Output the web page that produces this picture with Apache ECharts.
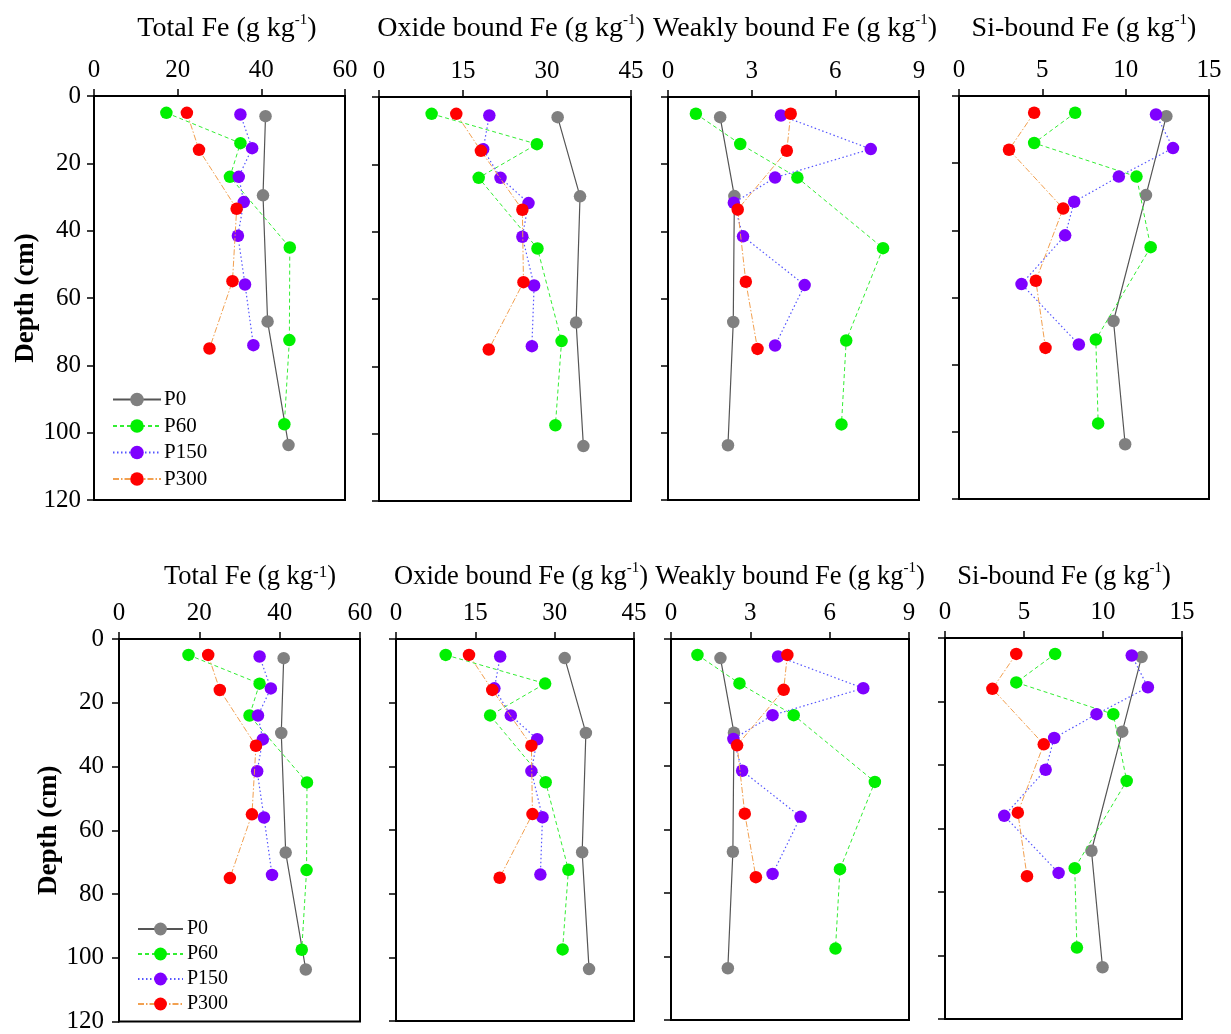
<!DOCTYPE html>
<html>
<head>
<meta charset="utf-8">
<script src="https://cdn.jsdelivr.net/npm/echarts@6/dist/echarts.min.js"></script>
<style>
html,body{margin:0;padding:0;background:#fff;}
#chart{width:1231px;height:1034px;}
</style>
</head>
<body>
<div id="chart"></div>
<script>
// ---- Data ----
var seriesNames = ['P0', 'P60', 'P150', 'P300'];
var depthP0 = [6, 29.5, 67, 103.7];
var depthP60 = [5, 14, 24, 45, 72.5, 97.5];
var depthP150 = [5.5, 15.5, 24, 31.5, 41.5, 56, 74];
var depthP300 = [5, 16, 33.5, 55, 75];

var totalFeP0 = [41.0, 40.4, 41.5, 46.5];
var totalFeP60 = [17.3, 35.0, 32.5, 46.8, 46.7, 45.5];
var totalFeP150 = [35.0, 37.8, 34.6, 35.8, 34.4, 36.1, 38.1];
var totalFeP300 = [22.2, 25.1, 34.1, 33.1, 27.6];

var oxideFeP0 = [31.9, 35.9, 35.2, 36.5];
var oxideFeP60 = [9.4, 28.2, 17.8, 28.3, 32.6, 31.5];
var oxideFeP150 = [19.7, 18.6, 21.7, 26.7, 25.6, 27.7, 27.3];
var oxideFeP300 = [13.8, 18.2, 25.6, 25.8, 19.6];

var weakFeP0 = [1.87, 2.38, 2.34, 2.15];
var weakFeP60 = [1.00, 2.59, 4.64, 7.71, 6.39, 6.22];
var weakFeP150 = [4.05, 7.27, 3.84, 2.36, 2.69, 4.90, 3.84];
var weakFeP300 = [4.40, 4.26, 2.50, 2.79, 3.21];

var siFeP0 = [12.44, 11.22, 9.27, 9.97];
var siFeP60 = [6.97, 4.51, 10.65, 11.50, 8.21, 8.35];
var siFeP150 = [11.82, 12.84, 9.59, 6.91, 6.37, 3.75, 7.19];
var siFeP300 = [4.51, 3.00, 6.25, 4.61, 5.19];

var panelTitles = ['Total Fe (g kg', 'Oxide bound Fe (g kg', 'Weakly bound Fe (g kg', 'Si-bound Fe (g kg'];
var xMax = [60, 45, 9, 15];
var xInterval = [20, 15, 3, 5];
var depthMax = 120, depthInterval = 20;
var yAxisName = 'Depth (cm)';

// ---- Layout / style ----
var depths = [depthP0, depthP60, depthP150, depthP300];
var panelValues = [
  [totalFeP0, totalFeP60, totalFeP150, totalFeP300],
  [oxideFeP0, oxideFeP60, oxideFeP150, oxideFeP300],
  [weakFeP0, weakFeP60, weakFeP150, weakFeP300],
  [siFeP0, siFeP60, siFeP150, siFeP300]
];
var grids = [
  {left: 94, top: 96, width: 251, height: 404},
  {left: 379, top: 97, width: 252, height: 404},
  {left: 668, top: 97, width: 251, height: 403},
  {left: 959, top: 96, width: 250, height: 403},
  {left: 119, top: 639, width: 241, height: 384},
  {left: 396, top: 639, width: 238, height: 382},
  {left: 671, top: 639, width: 238, height: 381},
  {left: 945, top: 638, width: 237, height: 381}
];
var titlePos = [[222, 8], [506, 8], [790, 8], [1079, 8], [245, 556], [516, 556], [785, 556], [1059, 556]];
var markerColors = ['#808080', '#00f000', '#7f00ff', '#ff0000'];
var lineStyles = [
  {color: '#555555', width: 1.2, type: 'solid'},
  {color: '#33ee33', width: 1, type: [4, 3]},
  {color: '#5555ff', width: 1.2, type: [1.5, 2.5]},
  {color: '#f2a050', width: 1, type: [6, 2, 1.5, 2]}
];
var FONT = 'Liberation Serif';

var option = {
  backgroundColor: '#fff',
  animation: false,
  textStyle: {fontFamily: FONT},
  title: [], grid: [], xAxis: [], yAxis: [], series: [],
  legend: [
    {data: seriesNames, orient: 'vertical', left: 107, top: 384, itemWidth: 48, itemHeight: 17, itemGap: 5.5,
     textStyle: {fontFamily: FONT, fontSize: 21, color: '#000', lineHeight: 20, padding: [0,0,0,-2]}},
    {data: seriesNames, orient: 'vertical', left: 132, top: 914, itemWidth: 45, itemHeight: 16, itemGap: 5,
     textStyle: {fontFamily: FONT, fontSize: 20, color: '#000', lineHeight: 19, padding: [0,0,0,-1]}}
  ]
};

for (var g = 0; g < 8; g++) {
  var p = g % 4;
  var isFirst = p === 0;
  var topRow = g < 4;
  var bottomFirst = g === 4;
  var tSize = topRow ? 28 : 26.5;
  option.title.push({
    text: '{a|' + panelTitles[p] + '}{s|-1}{a|)}',
    left: titlePos[g][0], top: titlePos[g][1], textAlign: 'center',
    textStyle: {
      fontWeight: 'normal', fontFamily: FONT,
      rich: {
        a: {fontFamily: FONT, fontWeight: 'normal', fontSize: tSize, color: '#000', lineHeight: 32},
        s: bottomFirst
          ? {fontFamily: FONT, fontWeight: 'normal', fontSize: 17, color: '#000', padding: [0, 0, 9, 0]}
          : {fontFamily: FONT, fontWeight: 'normal', fontSize: 15, color: '#000', padding: [0, 0, 17, 0]}
      }
    }
  });
  option.grid.push({left: grids[g].left, top: grids[g].top, width: grids[g].width, height: grids[g].height,
    show: true, borderColor: '#000', borderWidth: 2, backgroundColor: 'transparent', containLabel: false});
  option.xAxis.push({
    type: 'value', gridIndex: g, position: 'top', min: 0, max: xMax[p], interval: xInterval[p],
    splitLine: {show: false},
    axisLine: {show: true, onZero: false, lineStyle: {color: '#000', width: 2}},
    axisTick: {show: true, inside: false, length: 7, lineStyle: {color: '#000', width: 1.5}},
    axisLabel: {show: true, margin: 13, fontFamily: FONT, fontSize: 25, color: '#000'}
  });
  option.yAxis.push({
    type: 'value', gridIndex: g, inverse: true, min: 0, max: depthMax, interval: depthInterval,
    splitLine: {show: false},
    name: isFirst ? yAxisName : '', nameLocation: 'middle', nameGap: topRow ? 54 : 51, nameRotate: 90,
    nameTextStyle: {fontFamily: FONT, fontSize: 27, fontWeight: 'bold', color: '#000'},
    axisLine: {show: true, onZero: false, lineStyle: {color: '#000', width: 2}},
    axisTick: {show: true, inside: false, length: 7, lineStyle: {color: '#000', width: 1.5}},
    axisLabel: {show: isFirst, margin: topRow ? 13 : 15, fontFamily: FONT, fontSize: 25, color: '#000'}
  });
  for (var s = 0; s < 4; s++) {
    var vals = panelValues[p][s];
    var d = depths[s];
    var data = [];
    for (var i = 0; i < vals.length; i++) data.push([vals[i], d[i]]);
    option.series.push({
      name: seriesNames[s], type: 'line', xAxisIndex: g, yAxisIndex: g,
      data: data, symbol: 'circle', symbolSize: 12.5, showSymbol: true,
      itemStyle: {color: markerColors[s]},
      lineStyle: lineStyles[s],
      z: 2 + s
    });
  }
}

var chart = echarts.init(document.getElementById('chart'));
chart.setOption(option);
</script>
</body>
</html>
